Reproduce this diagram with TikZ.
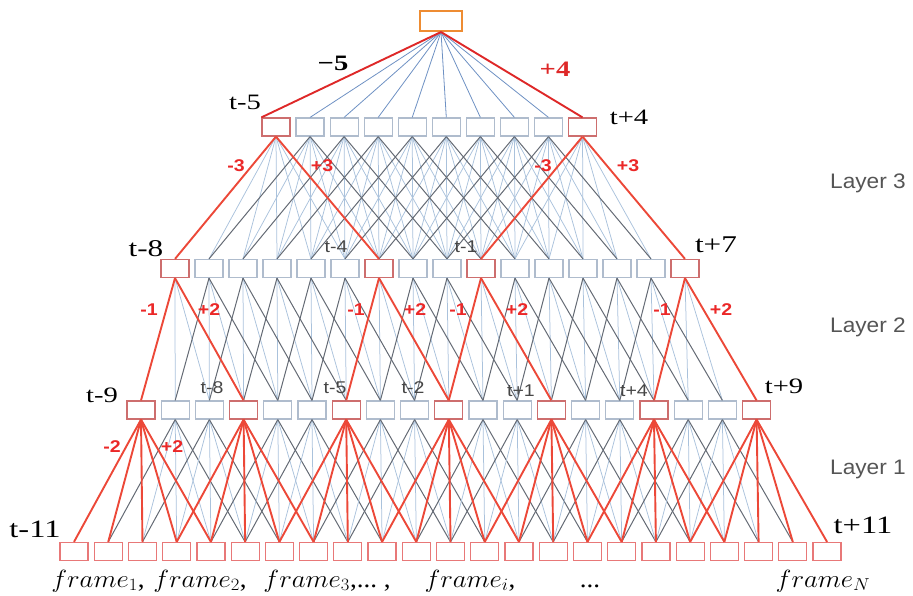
\documentclass[tikz,border=0pt]{standalone}
\usepackage{graphicx}
\usepackage{fontspec}
\setmainfont{Liberation Serif}
\newfontfamily\tlabfont{Liberation Serif}[FakeStretch=1.3]
\newfontfamily\slabfont{Liberation Sans}[FakeStretch=1.15]
\newfontfamily\layfont{Liberation Sans}[FakeStretch=1.08]
\definecolor{boxgray}{RGB}{175,188,205}
\definecolor{boxred}{RGB}{205,110,110}
\definecolor{framered}{RGB}{232,120,120}
\definecolor{orangec}{RGB}{238,140,50}
\definecolor{redline}{RGB}{236,72,56}
\definecolor{topred}{RGB}{222,40,40}
\definecolor{topblue}{RGB}{110,145,195}
\definecolor{lightblue}{RGB}{170,194,220}
\definecolor{grayline}{RGB}{100,106,116}
\definecolor{redlabel}{RGB}{235,40,40}
\definecolor{graytext}{RGB}{70,70,70}
\definecolor{laytext}{RGB}{85,85,85}
\newcommand{\frtxt}[1]{\scalebox{1.08}[1]{#1}}
\tikzset{
  box/.style={draw=#1, fill=white, line width=1.2pt, minimum width=28pt, minimum height=18pt, inner sep=0pt},
  lb/.style={draw=lightblue, line width=0.75pt},
  gl/.style={draw=grayline, line width=1.0pt},
  rl/.style={draw=redline, line width=1.9pt},
  tbl/.style={draw=topblue, line width=0.8pt},
  trl/.style={draw=topred, line width=1.9pt},
  tlab/.style={font=\tlabfont\fontsize{#1}{#1}\selectfont, inner sep=0pt, anchor=base},
  tlab/.default=22,
  slab/.style={font=\slabfont\bfseries\fontsize{17}{17}\selectfont, text=redlabel, inner sep=0pt, anchor=base},
  glab/.style={font=\slabfont\fontsize{17}{17}\selectfont, text=graytext, inner sep=0pt, anchor=base},
  laylab/.style={font=\layfont\fontsize{21}{21}\selectfont, text=laytext, inner sep=0pt, anchor=base},
  frlab/.style={font=\fontsize{25}{25}\selectfont, inner sep=0pt, anchor=base},
}
\begin{document}
\begin{tikzpicture}[x=1pt,y=-1pt]
\useasboundingbox (0,0) rectangle (913,596);
% ---- boxes
\node[box=orangec, minimum width=42pt, minimum height=20pt, line width=2pt] (top) at (441,21) {};
\foreach \i in {0,...,9}{
  \def\bc{boxgray}
  \ifnum\i=0 \def\bc{boxred}\fi
  \ifnum\i=9 \def\bc{boxred}\fi
  \node[box=\bc] (c\i) at ({276+34.06*\i},127) {};
}
\foreach \j in {0,...,15}{
  \def\bc{boxgray}
  \ifnum\j=0 \def\bc{boxred}\fi
  \ifnum\j=6 \def\bc{boxred}\fi
  \ifnum\j=9 \def\bc{boxred}\fi
  \ifnum\j=15 \def\bc{boxred}\fi
  \node[box=\bc] (b\j) at ({175+34*\j},268.5) {};
}
\foreach \k in {0,...,18}{
  \pgfmathtruncatemacro\r{mod(\k,3)}
  \ifnum\r=0 \def\bc{boxred}\else\def\bc{boxgray}\fi
  \node[box=\bc] (a\k) at ({141+34.2*\k},410) {};
}
\foreach \m in {0,...,22}{
  \node[box=framered] (f\m) at ({74+34.23*\m},551.5) {};
}
% ---- top -> layer 3
\foreach \i in {1,...,8}{\draw[tbl] (top.south) -- (c\i.north);}
\draw[trl] (top.south) -- (c0.north west);
\draw[trl] (top.south) -- (c9.north);
% ---- layer 3 -> layer 2
\foreach \i in {0,...,9}{
  \foreach \d in {1,...,5}{
    \pgfmathtruncatemacro\j{\i+\d}
    \draw[lb] (c\i.south) -- (b\j.north);
  }
}
\foreach \i in {1,...,8}{
  \pgfmathtruncatemacro\j{\i+6}
  \draw[gl] (c\i.south) -- (b\i.north);
  \draw[gl] (c\i.south) -- (b\j.north);
}
\foreach \i in {0,9}{
  \pgfmathtruncatemacro\j{\i+6}
  \draw[rl] (c\i.south) -- (b\i.north);
  \draw[rl] (c\i.south) -- (b\j.north);
}
% ---- layer 2 -> layer 1
\foreach \j in {0,...,15}{
  \pgfmathtruncatemacro\p{\j+1}
  \pgfmathtruncatemacro\q{\j+2}
  \draw[lb] (b\j.south) -- (a\p.north);
  \draw[lb] (b\j.south) -- (a\q.north);
}
\foreach \j in {1,2,3,4,5,7,8,10,11,12,13,14}{
  \pgfmathtruncatemacro\q{\j+3}
  \draw[gl] (b\j.south) -- (a\j.north);
  \draw[gl] (b\j.south) -- (a\q.north);
}
\foreach \j in {0,6,9,15}{
  \pgfmathtruncatemacro\q{\j+3}
  \draw[rl] (b\j.south) -- (a\j.north);
  \draw[rl] (b\j.south) -- (a\q.north);
}
% ---- layer 1 -> frames
\foreach \k in {1,2,4,5,7,8,10,11,13,14,16,17}{
  \foreach \d in {1,2,3}{
    \pgfmathtruncatemacro\m{\k+\d}
    \draw[lb] (a\k.south) -- (f\m.north);
  }
  \pgfmathtruncatemacro\q{\k+4}
  \draw[gl] (a\k.south) -- (f\k.north);
  \draw[gl] (a\k.south) -- (f\q.north);
}
\foreach \k in {0,3,6,9,12,15,18}{
  \foreach \d in {0,...,4}{
    \pgfmathtruncatemacro\m{\k+\d}
    \draw[rl] (a\k.south) -- (f\m.north);
  }
}
% ---- serif labels
\node[tlab, font=\tlabfont\bfseries\fontsize{22}{22}\selectfont] (lm5) at (333,71) {−5};
\node[tlab, font=\tlabfont\bfseries\fontsize{22}{22}\selectfont, text=topred] (lp4) at (555,77) {+4};
\node[tlab] (ltm5) at (245,110) {t-5};
\node[tlab] (ltp4) at (629,125) {t+4};
\node[tlab=24] (ltm8) at (146,257) {t-8};
\node[tlab=24] (ltp7) at (716,253) {t+7};
\node[tlab] (ltm9) at (102,402) {t-9};
\node[tlab] (ltp9) at (784,393) {t+9};
\node[tlab=25] (ltm11) at (35,537) {t-11};
\node[tlab=25] (ltp11) at (863,533) {t+11};
% ---- red offsets
\node[slab] (o1) at (236,172) {-3};
\node[slab] (o2) at (322,172) {+3};
\node[slab] (o3) at (543,172) {-3};
\node[slab] (o4) at (628,172) {+3};
\node[slab] (o5) at (149,315) {-1};
\node[slab] (o6) at (209,315) {+2};
\node[slab] (o7) at (356,315) {-1};
\node[slab] (o8) at (415,315) {+2};
\node[slab] (o9) at (458,315) {-1};
\node[slab] (o10) at (517,315) {+2};
\node[slab] (o11) at (662,315) {-1};
\node[slab] (o12) at (721,315) {+2};
\node[slab] (o13) at (112,452) {-2};
\node[slab] (o14) at (172,452) {+2};
% ---- small gray labels
\node[glab] (g1) at (336,252) {t-4};
\node[glab] (g2) at (466,252) {t-1};
\node[glab] (g3) at (212,393) {t-8};
\node[glab] (g4) at (335,393) {t-5};
\node[glab] (g5) at (413,393) {t-2};
\node[glab] (g6) at (521,396) {t+1};
\node[glab] (g7) at (634,396) {t+4};
% ---- layer labels
\node[laylab] (lay3) at (868,189) {Layer 3};
\node[laylab] (lay2) at (868,332) {Layer 2};
\node[laylab] (lay1) at (868,474) {Layer 1};
% ---- frame labels
\node[frlab] (fr1) at (98,587) {\frtxt{$frame_1$,}};
\node[frlab] (fr2) at (200,587) {\frtxt{$frame_2$,}};
\node[frlab] (fr3) at (327,587) {\frtxt{$frame_3$,...\ ,}};
\node[frlab] (fri) at (470,587) {\frtxt{$frame_i$,}};
\node[frlab] (frd) at (590,587) {\frtxt{...}};
\node[frlab] (frn) at (823,587) {\frtxt{$frame_N$}};
\end{tikzpicture}
\end{document}
